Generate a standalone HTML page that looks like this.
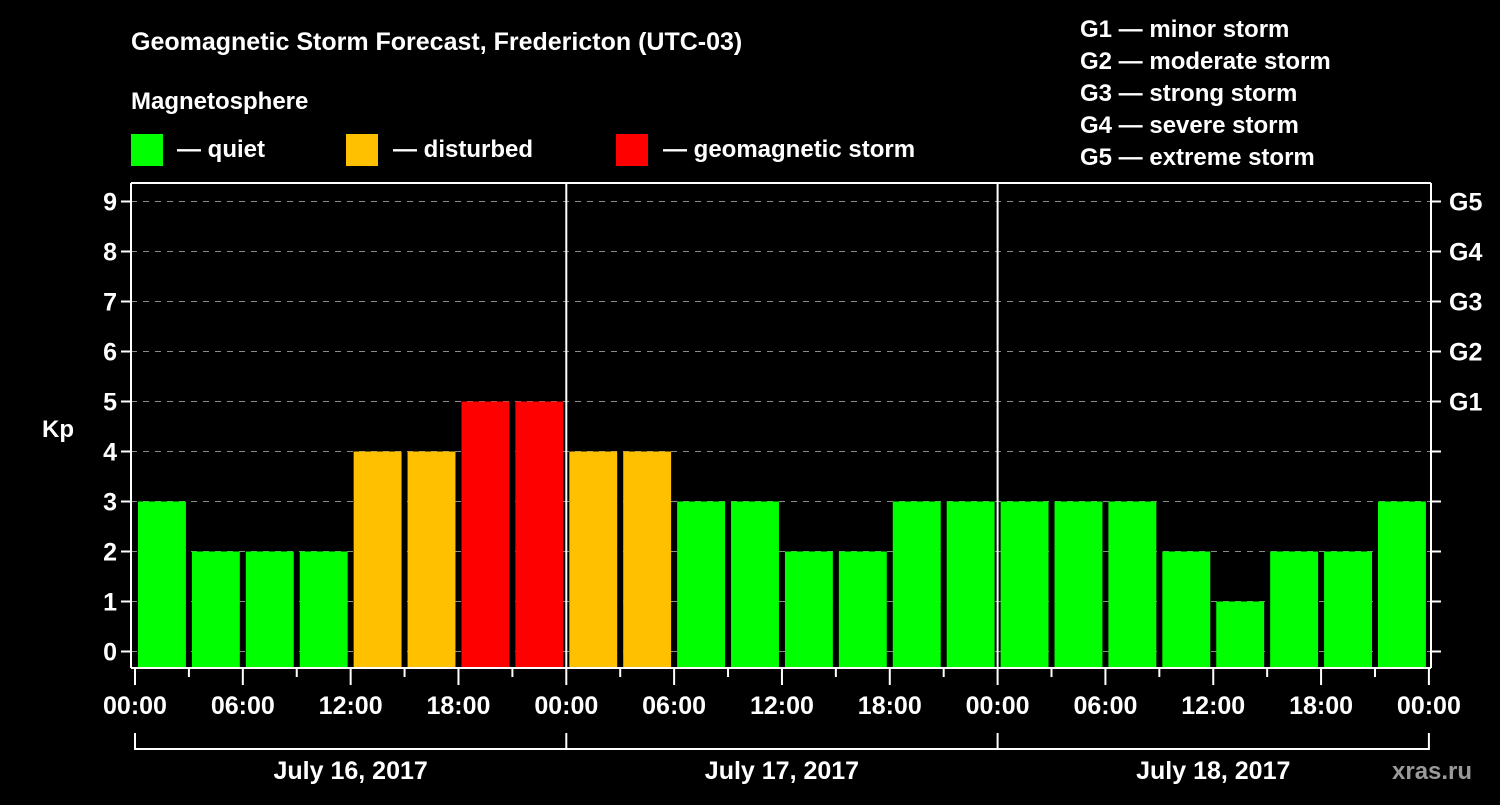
<!DOCTYPE html>
<html><head><meta charset="utf-8"><style>
body{margin:0;background:#000;width:1500px;height:800px;overflow:hidden}
svg text{font-family:"Liberation Sans",sans-serif;font-weight:bold;fill:#fff}
</style></head><body>
<svg id="c" width="1500" height="800" xmlns="http://www.w3.org/2000/svg">
<rect width="1500" height="800" fill="#000"/>
<text x="131" y="50" font-size="25">Geomagnetic Storm Forecast, Fredericton (UTC-03)</text>
<text x="131" y="109" font-size="24">Magnetosphere</text>
<rect x="131" y="134" width="32" height="32" fill="#00ff00"/>
<text x="177" y="157" font-size="24">— quiet</text>
<rect x="346" y="134" width="32" height="32" fill="#ffc000"/>
<text x="393" y="157" font-size="24">— disturbed</text>
<rect x="616" y="134" width="32" height="32" fill="#ff0000"/>
<text x="663" y="157" font-size="24">— geomagnetic storm</text>
<g font-size="24">
<text x="1080" y="37">G1 — minor storm</text>
<text x="1080" y="69">G2 — moderate storm</text>
<text x="1080" y="101">G3 — strong storm</text>
<text x="1080" y="133">G4 — severe storm</text>
<text x="1080" y="165">G5 — extreme storm</text>
</g>
<text x="42" y="437" font-size="24">Kp</text>
<text x="1392" y="779" font-size="24" fill="#9a9a9a" style="fill:#9a9a9a">xras.ru</text>
<g id="plot"></g>
</svg>
<script>
const days = ["July 16, 2017","July 17, 2017","July 18, 2017"];
const kpValues = [3,2,2,2,4,4,5,5, 4,4,3,3,2,2,3,3, 3,3,3,2,1,2,2,3];
const yTicks = [0,1,2,3,4,5,6,7,8,9];
const gLabels = ["G1","G2","G3","G4","G5"];
const xLabels = ["00:00","06:00","12:00","18:00"];
const NS="http://www.w3.org/2000/svg";
const g=document.getElementById('plot');
const X0=135, DAYW=431.3, SLOT=DAYW/8, Y0=651.5, YU=50;
const TOP=183, BOT=668, LEFT=131, RIGHT=1431;
const x=h=>X0+h/24*DAYW; const y=v=>Y0-v*YU;
function mk(t,a){const e=document.createElementNS(NS,t);for(const k in a)e.setAttribute(k,a[k]);g.appendChild(e);return e;}
yTicks.forEach(v=>{
  const l=mk('line',{x1:LEFT,x2:RIGHT,y1:y(v),y2:y(v),stroke:'#8a8a8a','stroke-width':1,'stroke-dasharray':'6,6'});
  
  
  const t=mk('line',{x1:LEFT-10,x2:LEFT,y1:y(v),y2:y(v),stroke:'#fff','stroke-width':2});
  
  
  const r=mk('line',{x1:RIGHT,x2:RIGHT+10,y1:y(v),y2:y(v),stroke:'#fff','stroke-width':2});
  
  
  const tx=mk('text',{x:LEFT-14,y:y(v)+9,'text-anchor':'end','font-size':25});
  tx.textContent=v;
  
  
});
gLabels.forEach((s,i)=>{
  const tx=mk('text',{x:RIGHT+18,y:y(5+i)+9,'font-size':25});
  tx.textContent=s;
  
  
});
kpValues.forEach((v,i)=>{
  const c=v>=5?'#ff0000':v>=4?'#ffc000':'#00ff00';
  const b=mk('rect',{x:X0+i*SLOT+3,y:y(v),width:SLOT-6,height:BOT-1-y(v),fill:c});
  
  
});
[[LEFT,TOP,RIGHT,TOP],[LEFT,BOT,RIGHT,BOT],[LEFT,TOP,LEFT,BOT],[RIGHT,TOP,RIGHT,BOT],[x(24),TOP,x(24),BOT],[x(48),TOP,x(48),BOT]].forEach(p=>{
  const l=mk('line',{x1:p[0],y1:p[1],x2:p[2],y2:p[3],stroke:'#fff','stroke-width':2});
  
  
});
for(let h=0;h<=72;h+=3){
  const maj=h%6===0;
  const l=mk('line',{x1:x(h),x2:x(h),y1:BOT,y2:BOT+(maj?17:9),stroke:'#fff','stroke-width':2});
  
  
  if(maj){
    const t=mk('text',{x:x(h),y:714,'text-anchor':'middle','font-size':25});
    t.textContent=xLabels[(h/6)%4];
    
    
  }
}
const br=mk('path',{d:`M${x(0)},733V749H${x(72)}V733`,fill:'none',stroke:'#fff','stroke-width':2});


days.forEach((d,i)=>{
  if(i>0){const l=mk('line',{x1:x(24*i),x2:x(24*i),y1:733,y2:749,stroke:'#fff','stroke-width':2});
  
  }
  const t=mk('text',{x:x(24*i+12),y:779,'text-anchor':'middle','font-size':25});
  t.textContent=d;
  
  
});
</script>
</body></html>
